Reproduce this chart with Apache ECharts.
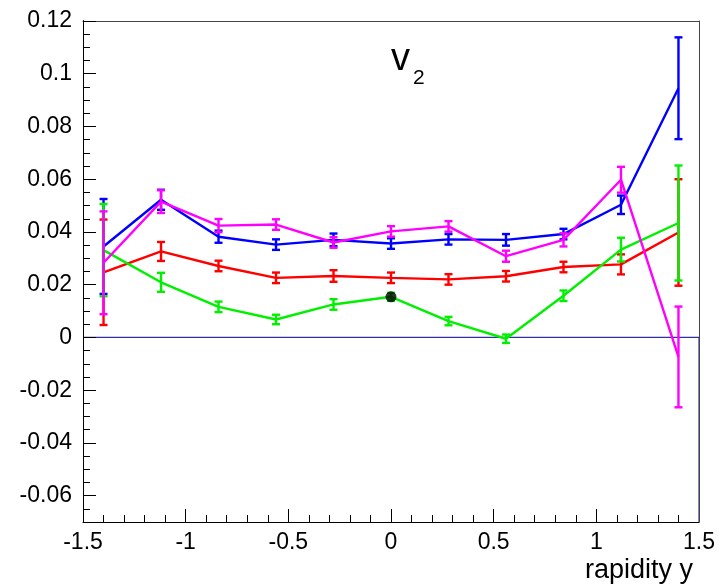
<!DOCTYPE html>
<html>
<head>
<meta charset="utf-8">
<script src="https://cdn.jsdelivr.net/npm/echarts@6/dist/echarts.min.js"></script>
<style>
html,body{margin:0;padding:0;background:#fff;}
#wrap{position:relative;width:719px;height:585px;}
.layer{position:absolute;left:0;top:0;width:719px;height:585px;}
.over{pointer-events:none;}
</style>
</head>
<body>
<div id="wrap">
  <div id="c" class="layer"></div>
  <div id="o1" class="layer over"></div>
  <div id="o2" class="layer over"></div>
</div>
<script>
// ---- data ----
var xVals = [-1.4, -1.12, -0.84, -0.56, -0.28, 0, 0.28, 0.56, 0.84, 1.12, 1.4];
var blueV = [0.0345, 0.0522, 0.0382, 0.0352, 0.0370, 0.0356, 0.0372, 0.0370, 0.0392, 0.0503, 0.0945];
var blueE = [0.0180, 0.0038, 0.0023, 0.0020, 0.0024, 0.0020, 0.0020, 0.0022, 0.0020, 0.0035, 0.0193];
var redV = [0.0247, 0.0326, 0.0271, 0.0226, 0.0233, 0.0226, 0.0220, 0.0232, 0.0267, 0.0277, 0.0398];
var redE = [0.0200, 0.0036, 0.0020, 0.0020, 0.0022, 0.0020, 0.0020, 0.0020, 0.0020, 0.0038, 0.0202];
var greenV = [0.0331, 0.0209, 0.0116, 0.0068, 0.0125, 0.0154, 0.0062, -0.0005, 0.0158, 0.0333, 0.0434];
var greenE = [0.0175, 0.0036, 0.0020, 0.0018, 0.0020, 0.0015, 0.0016, 0.0016, 0.0020, 0.0045, 0.0218];
var magentaV = [0.0283, 0.0515, 0.0424, 0.0428, 0.0360, 0.0402, 0.0421, 0.0308, 0.0370, 0.0598, -0.0074];
var magentaE = [0.0195, 0.0043, 0.0025, 0.0020, 0.0020, 0.0020, 0.0020, 0.0021, 0.0025, 0.0049, 0.0191];
var dotX = [0];
var dotY = [0.0154];
var zeroLineX = [-1.5, 1.5, 1.5];
var zeroLineY = [0, 0, -0.07];
var yTickLabels = [-0.06, -0.04, -0.02, 0, 0.02, 0.04, 0.06, 0.08, 0.1, 0.12];
var xTickLabels = [-1.5, -1, -0.5, 0, 0.5, 1, 1.5];

// ---- build ----
var FONT = 'Liberation Sans';
var Y_MIN = -0.07, Y_MAX = 0.12, X_MIN = -1.5, X_MAX = 1.5;
var GRID = { left: 83, right: 20, top: 21, bottom: 63, outerBoundsMode: 'none' };

function pts(v) { return xVals.map(function (x, i) { return [x, v[i]]; }); }
function errData(v, e) { return xVals.map(function (x, i) { return [x, v[i], v[i] - e[i], v[i] + e[i]]; }); }

function errSeries(v, e, color, z) {
  return {
    type: 'custom',
    z: z,
    data: errData(v, e),
    renderItem: function (params, api) {
      var lo = api.coord([api.value(0), api.value(2)]);
      var hi = api.coord([api.value(0), api.value(3)]);
      var hw = 4;
      var st = { stroke: color, lineWidth: 2.4 };
      return {
        type: 'group',
        children: [
          { type: 'line', shape: { x1: lo[0], y1: lo[1], x2: hi[0], y2: hi[1] }, style: st },
          { type: 'line', shape: { x1: lo[0] - hw, y1: lo[1], x2: lo[0] + hw, y2: lo[1] }, style: st },
          { type: 'line', shape: { x1: hi[0] - hw, y1: hi[1], x2: hi[0] + hw, y2: hi[1] }, style: st }
        ]
      };
    }
  };
}
function lineSeries(v, color, z) {
  return {
    type: 'line', z: z, data: pts(v), symbol: 'none', animation: false,
    lineStyle: { color: color, width: 2.4 }
  };
}

var colors = { red: '#ff0000', blue: '#0000ff', green: '#00f000', magenta: '#ff00ff' };

var chart = echarts.init(document.getElementById('c'), null, { renderer: 'canvas' });
chart.setOption({
  animation: false,
  backgroundColor: '#ffffff',
  title: [
    {
      text: '{a|v}{b|2}',
      left: 386, top: 36,
      textStyle: {
        rich: {
          a: { fontFamily: FONT, fontSize: 38, fontWeight: 'normal', color: '#000', verticalAlign: 'bottom' },
          b: { fontFamily: FONT, fontSize: 21, fontWeight: 'normal', color: '#000', verticalAlign: 'bottom', padding: [0, 0, -10, 3] }
        }
      }
    },
    {
      text: 'rapidity y',
      right: 21, top: 552,
      textStyle: { fontFamily: FONT, fontSize: 27, fontWeight: 'normal', color: '#000' }
    }
  ],
  grid: GRID,
  xAxis: {
    type: 'value', min: X_MIN, max: X_MAX, interval: 0.5,
    axisLine: { show: true, onZero: false, lineStyle: { color: '#000', width: 1 } },
    axisTick: { show: true, inside: true, length: 13, lineStyle: { color: '#000' } },
    minorTick: { show: true, splitNumber: 5, length: 7, lineStyle: { color: '#000' } },
    splitLine: { show: false },
    minorSplitLine: { show: false },
    axisLabel: {
      fontFamily: FONT, fontSize: 23, color: '#000', margin: 9,
      customValues: xTickLabels
    }
  },
  yAxis: {
    type: 'value', min: Y_MIN, max: Y_MAX,
    axisLine: { show: true, onZero: false, lineStyle: { color: '#000', width: 1 } },
    axisTick: { show: true, inside: true, length: 13, customValues: yTickLabels, lineStyle: { color: '#000', width: 1 } },
    splitLine: { show: false },
    axisLabel: {
      fontFamily: FONT, fontSize: 23, color: '#000', margin: 11,
      customValues: yTickLabels
    }
  },
  series: [
    {
      type: 'line', z: 1, symbol: 'none', animation: false,
      data: zeroLineX.map(function (x, i) { return [x, zeroLineY[i]]; }),
      lineStyle: { color: '#3030a0', width: 1.2 }
    },
    lineSeries(redV, colors.red, 2), errSeries(redV, redE, colors.red, 2),
    lineSeries(blueV, colors.blue, 3), errSeries(blueV, blueE, colors.blue, 3),
    lineSeries(greenV, colors.green, 4), errSeries(greenV, greenE, colors.green, 4),
    lineSeries(magentaV, colors.magenta, 5), errSeries(magentaV, magentaE, colors.magenta, 5),
    {
      type: 'scatter', z: 6, symbol: 'circle', symbolSize: 11,
      data: dotX.map(function (x, i) { return [x, dotY[i]]; }),
      itemStyle: { color: '#000' }
    }
  ]
});

// overlay 1: frame (top/right) + major y ticks
var o1 = echarts.init(document.getElementById('o1'));
o1.setOption({
  animation: false,
  grid: GRID,
  xAxis: [
    { type: 'value', min: X_MIN, max: X_MAX, position: 'top',
      axisLine: { show: true, onZero: false, lineStyle: { color: '#444', width: 1 } },
      axisTick: { show: false }, axisLabel: { show: false }, splitLine: { show: false } }
  ],
  yAxis: [
    { type: 'value', min: Y_MIN, max: Y_MAX, position: 'left',
      axisLine: { show: true, onZero: false, lineStyle: { color: '#000', width: 1 } },
      axisTick: { show: true, inside: true, length: 13, customValues: yTickLabels, lineStyle: { color: '#000', width: 1 } },
      axisLabel: { show: false }, splitLine: { show: false } },
    { type: 'value', min: Y_MIN, max: Y_MAX, position: 'right',
      axisLine: { show: true, onZero: false, lineStyle: { color: '#444', width: 1 } },
      axisTick: { show: false }, axisLabel: { show: false }, splitLine: { show: false } }
  ],
  series: [{ type: 'line', data: [] }]
});

// overlay 2: minor y ticks every 0.005
var o2 = echarts.init(document.getElementById('o2'));
o2.setOption({
  animation: false,
  grid: GRID,
  xAxis: { type: 'value', min: X_MIN, max: X_MAX, show: false },
  yAxis: { type: 'value', min: Y_MIN, max: Y_MAX, interval: 0.005, position: 'left',
    axisLine: { show: true, onZero: false, lineStyle: { color: '#000', width: 1 } },
    axisTick: { show: true, inside: true, length: 7, lineStyle: { color: '#000', width: 1 } },
    axisLabel: { show: false }, splitLine: { show: false } },
  series: [{ type: 'line', data: [] }]
});
</script>
</body>
</html>
